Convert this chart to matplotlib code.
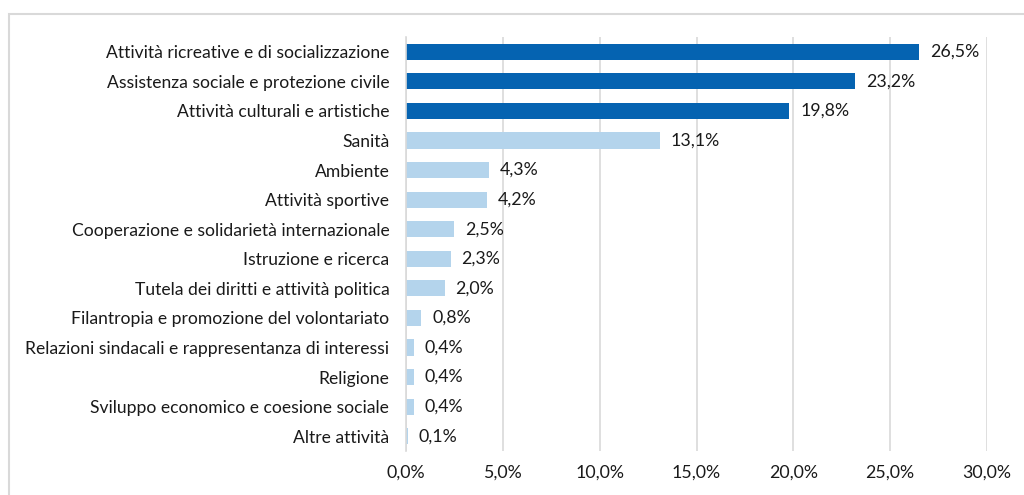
import numpy as np
import matplotlib.pyplot as plt
from matplotlib.patches import Rectangle

categories = [
    "Attività ricreative e di socializzazione",
    "Assistenza sociale e protezione civile",
    "Attività culturali e artistiche",
    "Sanità",
    "Ambiente",
    "Attività sportive",
    "Cooperazione e solidarietà internazionale",
    "Istruzione e ricerca",
    "Tutela dei diritti e attività politica",
    "Filantropia e promozione del volontariato",
    "Relazioni sindacali e rappresentanza di interessi",
    "Religione",
    "Sviluppo economico e coesione sociale",
    "Altre attività",
]
values = [26.5, 23.2, 19.8, 13.1, 4.3, 4.2, 2.5, 2.3, 2.0, 0.8, 0.4, 0.4, 0.4, 0.1]
n_dark = 3
xticks = [0, 5, 10, 15, 20, 25, 30]

plt.rcParams['font.family'] = ['Lato', 'DejaVu Sans']

fig = plt.figure(figsize=(10.24, 4.95), dpi=100)
ax = fig.add_axes([406 / 1024, 1 - 451 / 495, (987 - 406) / 1024, (451 - 37) / 495])

# outer chart frame
fig.patches.append(Rectangle((9 / 1024, -0.1), 1.1, 1 - 14 / 495 + 0.1,
                             transform=fig.transFigure, fill=False,
                             edgecolor='#D9D9D9', linewidth=1.5))

ys = np.arange(len(values))
colors = ['#0563B1' if i < n_dark else '#B4D4EC' for i in range(len(values))]
ax.barh(ys, values, height=0.55, color=colors, zorder=3)

for y, v in zip(ys, values):
    ax.text(v + 0.55, y, f"{v:.1f}%".replace('.', ','), va='center', ha='left',
            fontsize=12.8, color='#1a1a1a')

ax.set_ylim(len(values) - 0.5, -0.5)
ax.set_xlim(0, 30)
ax.set_yticks(ys)
ax.set_yticklabels(categories, fontsize=12.6, color='#1a1a1a')
ax.set_xticks(xticks)
ax.set_xticklabels([f"{t:.1f}%".replace('.', ',') for t in xticks], fontsize=12.8, color='#1a1a1a')
ax.tick_params(axis='both', length=0)
ax.tick_params(axis='y', pad=12)
ax.tick_params(axis='x', pad=10)

ax.grid(axis='x', color='#D9D9D9', linewidth=1.2, zorder=0)
for s in ['top', 'right', 'bottom']:
    ax.spines[s].set_visible(False)
ax.spines['left'].set_color('#D9D9D9')
ax.spines['left'].set_linewidth(1.2)
ax.spines['left'].set_zorder(4)

fig.savefig('out.png', dpi=100)
